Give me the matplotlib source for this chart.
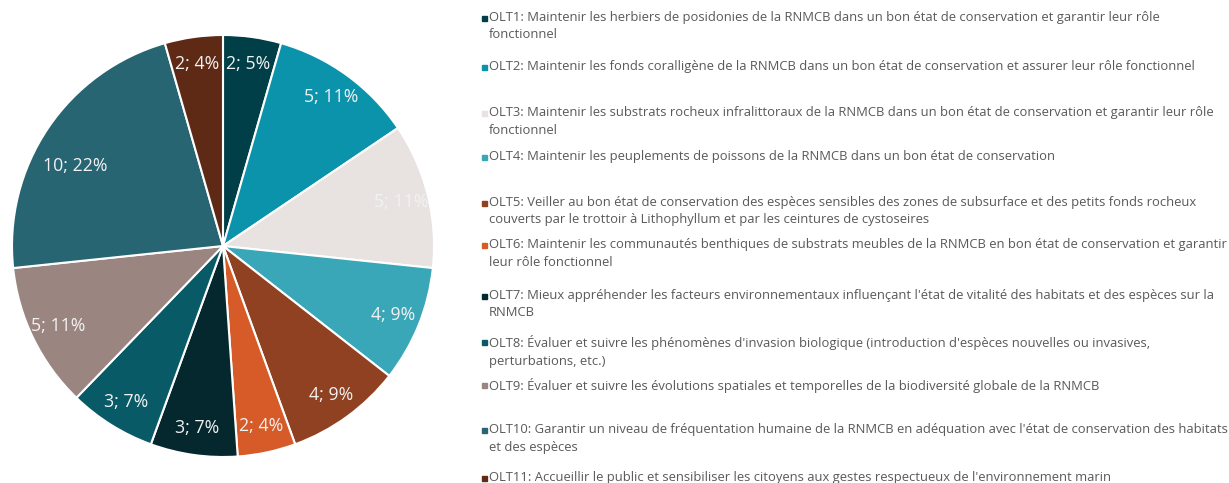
import matplotlib
matplotlib.use("Agg")
import matplotlib.pyplot as plt
import numpy as np

categories = ["OLT1", "OLT2", "OLT3", "OLT4", "OLT5", "OLT6", "OLT7", "OLT8", "OLT9", "OLT10", "OLT11"]
values = [2, 5, 5, 4, 4, 2, 3, 3, 5, 10, 2]
pct_labels = ["2; 5%", "5; 11%", "5; 11%", "4; 9%", "4; 9%", "2; 4%", "3; 7%", "3; 7%", "5; 11%", "10; 22%", "2; 4%"]
colors = ["#003e48", "#0b93ab", "#e8e2e1", "#3aa7b8", "#8f4121", "#d65b29", "#05282e",
          "#095a67", "#9a8581", "#276572", "#5f2a15"]
legend_texts = [
    "OLT1: Maintenir les herbiers de posidonies de la RNMCB dans un bon état de conservation et garantir leur rôle\nfonctionnel",
    "OLT2: Maintenir les fonds coralligène de la RNMCB dans un bon état de conservation et assurer leur rôle fonctionnel",
    "OLT3: Maintenir les substrats rocheux infralittoraux de la RNMCB dans un bon état de conservation et garantir leur rôle\nfonctionnel",
    "OLT4: Maintenir les peuplements de poissons de la RNMCB dans un bon état de conservation",
    "OLT5: Veiller au bon état de conservation des espèces sensibles des zones de subsurface et des petits fonds rocheux\ncouverts par le trottoir à Lithophyllum et par les ceintures de cystoseires",
    "OLT6: Maintenir les communautés benthiques de substrats meubles de la RNMCB en bon état de conservation et garantir\nleur rôle fonctionnel",
    "OLT7: Mieux appréhender les facteurs environnementaux influençant l'état de vitalité des habitats et des espèces sur la\nRNMCB",
    "OLT8: Évaluer et suivre les phénomènes d'invasion biologique (introduction d'espèces nouvelles ou invasives,\nperturbations, etc.)",
    "OLT9: Évaluer et suivre les évolutions spatiales et temporelles de la biodiversité globale de la RNMCB",
    "OLT10: Garantir un niveau de fréquentation humaine de la RNMCB en adéquation avec l'état de conservation des habitats\net des espèces",
    "OLT11: Accueillir le public et sensibiliser les citoyens aux gestes respectueux de l'environnement marin",
]

W, H = 1229, 483
fig = plt.figure(figsize=(W / 100, H / 100), dpi=100)
fig.patch.set_facecolor("white")

cx, cy, r = 223, 246, 211
ax = fig.add_axes([(cx - r) / W, (H - cy - r) / H, 2 * r / W, 2 * r / H])
wedges, texts = ax.pie(values, colors=colors, startangle=90, counterclock=False,
                       labels=pct_labels, labeldistance=0.87,
                       wedgeprops=dict(edgecolor="white", linewidth=1.5),
                       textprops=dict(color="#f2f2f2", fontsize=12.8, family="Open Sans"))
for t in texts:
    t.set_ha("center")
    t.set_va("center")
# the largest slice's label sits further from the rim
texts[9].set_position((-0.70, 0.38))
ax.set_xlim(-1, 1)
ax.set_ylim(-1, 1)
ax.set_aspect("auto")
ax.axis("off")

line_y = [18, 67, 113, 157, 203, 245, 296, 342, 385, 430, 478]
fam = "Open Sans"
fs = 7.0
# fit font size so the OLT2 line spans about 707 px
renderer = fig.canvas.get_renderer()
probe = fig.text(0, 0, legend_texts[1], fontsize=fs, family=fam)
wpx = probe.get_window_extent(renderer).width
fs = fs * 707 / wpx
probe.remove()

for i, txt in enumerate(legend_texts):
    y0 = line_y[i]
    fig.patches.append(plt.Rectangle((482 / W, 1 - (y0 + 2.5) / H), 5 / W, 5 / H,
                                     transform=fig.transFigure, color=colors[i], figure=fig))
    fig.text(489 / W, 1 - (y0 - 7) / H, txt, fontsize=fs, family=fam, color="#595959",
             va="top", ha="left", linespacing=1.45)

fig.savefig("out.png", dpi=100)
